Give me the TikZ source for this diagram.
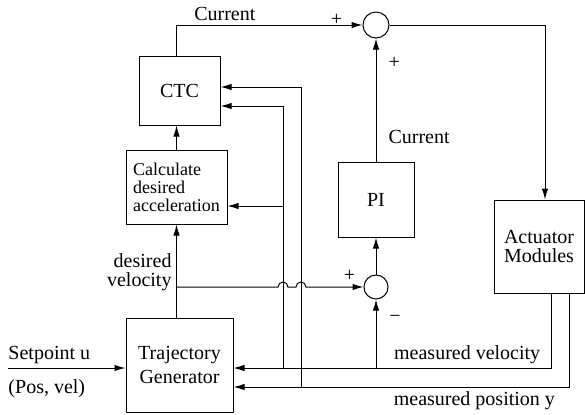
\documentclass[tikz,border=0pt]{standalone}
\usepackage{fontspec}
\setmainfont{Liberation Serif}
\usetikzlibrary{positioning, arrows.meta, calc}

\begin{document}
\begin{tikzpicture}[
        x=0.5pt, y=-0.5pt,
        block/.style={draw, rectangle, inner sep=0pt, line width=0.5pt},
        summer/.style={draw, circle, inner sep=0pt, line width=0.5pt},
        arrow/.style={-{Latex[length=5.5pt, width=3.2pt]}, line width=0.5pt},
        lbl/.style={inner sep=2pt},
        tight/.style={align=center, font={\fontsize{10pt}{9.5pt}\selectfont}}
    ]
    \useasboundingbox (0,0) rectangle (585,414);

    % Blocks
    \node[block, minimum width=40.5pt, minimum height=34.5pt] (CTC) at (179.5,90.5) {CTC};
    \node[block, minimum width=50.5pt, minimum height=37pt, align=left,
          font={\fontsize{9pt}{9pt}\selectfont}] (Accel) at (176.5,187) {Calculate\\desired\\acceleration};
    \node[block, minimum width=53.5pt, minimum height=47pt, align=center] (Traj) at (179.5,365) {Trajectory\\Generator};
    \node[block, minimum width=38pt, minimum height=37.5pt] (PI) at (376,199.5) {PI};
    \node[block, tight, minimum width=45pt, minimum height=46.5pt] (Act) at (539,246.5) {Actuator\\Modules};
    \node[summer, minimum size=13pt] (SumCur) at (376,25) {};
    \node[summer, minimum size=12pt] (SumVel) at (376,287) {};

    % Junctions
    \coordinate (Setp) at (8,368);
    \coordinate (DesVel) at (176,287);
    \coordinate (VelFb) at (283,368);
    \coordinate (PosFb) at (301,387);
    \coordinate (Jump1) at (278,287);
    \coordinate (Jump2) at (296,287);
    \coordinate (AccIn) at ([yshift=-9.5pt]Accel.east);

    % Forward path
    \draw[arrow] (Setp) node[lbl, above right, xshift=-2pt] (SetpLbl) {Setpoint u}
        node[lbl, below right, xshift=-2pt, yshift=-3.5pt] (SetpUnit) {(Pos, vel)} -- (Setp -| Traj.west);
    \draw[arrow] (Accel.south |- Traj.north) -- (Accel.south);
    \draw[arrow] (Accel.north) -- (Accel.north |- CTC.south);
    \draw[arrow] (Accel.north |- CTC.north) |- node[lbl, above, pos=0.63] (CurTop) {Current} (SumCur.west);
    \draw[arrow] (SumCur.east) -| ([xshift=3pt]Act.north);
    \draw[arrow] (SumVel.north) -- (PI.south);
    \draw[arrow] (PI.north) -- node[lbl, right, pos=0.2, xshift=4pt] (CurPI) {Current}
        node[lbl, right, pos=0.8, xshift=4pt] (PlusPI) {+} (SumCur.south);
    \draw[arrow] (DesVel) node[lbl, tight, align=right, anchor=south east, yshift=-4pt] (DesLbl) {desired\\velocity}
        -- (Jump1) arc[start angle=180, end angle=0, radius=2.5pt]
        -- (Jump2) arc[start angle=180, end angle=0, radius=2.5pt] -- (SumVel.west);

    % Feedback
    \draw[arrow] ([xshift=6pt]Act.south) |- node[lbl, above, pos=0.632] (VelLbl) {measured velocity} (Traj.east |- VelFb);
    \draw[arrow] ([xshift=15pt]Act.south) |- node[lbl, below, pos=0.641] (PosLbl) {measured position y} (Traj.east |- PosFb);
    \draw[arrow] (VelFb) |- ([yshift=-7.75pt]CTC.east);
    \draw[arrow] (AccIn -| VelFb) -- (AccIn);
    \draw[arrow] (PosFb) |- ([yshift=1.75pt]CTC.east);
    \draw[arrow] (SumVel.south |- VelFb) -- (SumVel.south);

    % Signs
    \node[lbl] (PlusCur) at ([xshift=-13pt, yshift=2.5pt]SumCur.west) {+};
    \node[lbl] (PlusVel) at ([xshift=-7pt, yshift=5.5pt]SumVel.west) {+};
    \node[lbl] (MinusVel) at ([xshift=9.5pt, yshift=-16pt]SumVel.center) {−};

\end{tikzpicture}
\end{document}
